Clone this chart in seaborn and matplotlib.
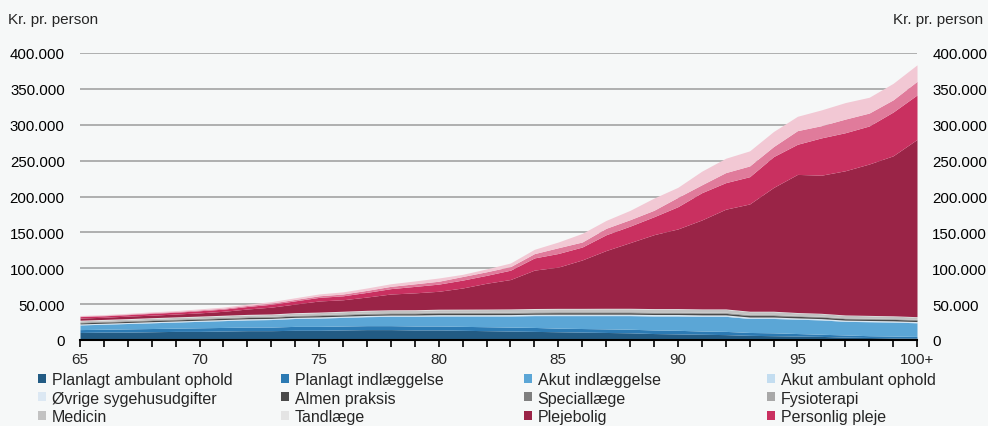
import numpy as np
import pandas as pd
import matplotlib
matplotlib.use("Agg")
import matplotlib.pyplot as plt
import matplotlib.ticker as mticker
import seaborn as sns

# alder 65..100+ (tusind kr. pr. person)
alder = list(range(65, 101))
x_labels = ["65", "70", "75", "80", "85", "90", "95", "100+"]

planlagt_amb = [10.5, 11, 11, 11.5, 12, 12, 12.5, 13, 13, 13.5,
                13.5, 14, 14.5, 14.5, 14, 14, 13.5, 13, 12.5, 12,
                11.5, 11, 10.5, 10, 9, 8.5, 8, 7.5, 6.5, 6,
                5.5, 5, 4, 3.5, 3, 3]
planlagt_indl = [4, 4, 4.5, 4.5, 4.5, 5, 5, 5, 5, 5.5,
                 5.5, 5.5, 5.5, 5.5, 5.5, 5.5, 5.5, 5.5, 5.5, 5.5,
                 5, 5, 5, 5, 5, 5, 4.5, 4.5, 4, 4,
                 3.5, 3, 3, 2.5, 2.5, 2]
akut_indl = [6.5, 7, 7.5, 8, 8.5, 9, 9.5, 10, 10.5, 11,
             11.5, 12, 12.5, 13, 13.5, 14, 14.5, 15, 15.5, 16.5,
             17.5, 18, 18.5, 19, 19.5, 20, 20.5, 21, 19.5, 20,
             20, 20, 19, 19.5, 19.5, 19]
akut_amb = [0.8, 0.8, 0.8, 0.9, 0.9, 0.9, 0.9, 1, 1, 1,
            1, 1, 1, 1.1, 1.1, 1.1, 1.1, 1.1, 1.2, 1.2,
            1.2, 1.2, 1.2, 1.2, 1.2, 1.2, 1.2, 1.2, 1.2, 1.2,
            1.1, 1.1, 1, 1, 1, 1]
oevrige = [0.6] * 10 + [0.7] * 10 + [0.8] * 10 + [0.7] * 6
almen = [1.5, 1.5, 1.5, 1.6, 1.6, 1.6, 1.7, 1.7, 1.7, 1.8,
         1.8, 1.8, 1.9, 1.9, 1.9, 2, 2, 2, 2, 2,
         2.1, 2.1, 2.1, 2.1, 2.1, 2.1, 2.1, 2.1, 2.1, 2.1,
         2.1, 2.1, 2, 2, 2, 2]
special = [0.9] * 10 + [1.0] * 20 + [0.8] * 6
fysio = [0.5] * 10 + [0.6] * 20 + [0.5] * 6
medicin = [1.5, 1.6, 1.7, 1.8, 1.9, 2, 2.1, 2.2, 2.3, 2.5,
           2.6, 2.8, 3, 3.1, 3.2, 3.3, 3.4, 3.5, 3.6, 3.7,
           3.8, 3.8, 3.9, 3.9, 4, 4, 4, 4, 3.8, 3.8,
           3.6, 3.5, 3.4, 3.3, 3.2, 3]
tand = [0.8] * 10 + [0.7] * 10 + [0.6] * 10 + [0.5] * 6
plejebolig = [3, 3, 3.5, 3.5, 4, 4.5, 5.5, 7.5, 9.5, 12,
              15.5, 16, 18.5, 22, 23.5, 25, 29.5, 36, 41, 53.5,
              57.5, 67.5, 80.5, 91.5, 103, 111, 124, 139, 149.5, 172.5,
              192.5, 192.5, 201, 211, 223, 247]
personlig = [2, 2, 2, 2.5, 2.5, 3, 3, 3.5, 4, 4.5,
             5, 5.5, 6.5, 7.5, 9, 10, 11, 11, 13, 17,
             19, 18, 22, 23, 25, 31, 38, 37, 38, 43,
             42, 52, 53, 53, 61, 62]
praktisk = [0.8, 0.8, 0.9, 1, 1, 1.2, 1.3, 1.5, 1.7, 2,
            2.2, 2.5, 2.8, 3.2, 3.6, 4, 5, 5, 5, 6,
            8, 7, 9, 9, 9, 13, 11, 14, 15, 14,
            19, 17, 19, 18, 17, 19]
sygepleje = [0.8, 0.9, 1, 1.1, 1.2, 1.4, 1.6, 1.8, 2, 2.3,
             2.6, 3, 3.3, 3.6, 4, 4.5, 3, 4, 5, 6,
             8, 12, 11, 13, 17, 14, 19, 20, 21, 21,
             20, 22, 23, 22, 23, 23]

navne = ["Planlagt ambulant ophold", "Planlagt indlæggelse", "Akut indlæggelse",
         "Akut ambulant ophold", "Øvrige sygehusudgifter", "Almen praksis",
         "Speciallæge", "Fysioterapi", "Medicin", "Tandlæge", "Plejebolig",
         "Personlig pleje", "Praktisk hjælp", "Hjemmesygepleje"]
farver = ["#225b84", "#2c7ab3", "#5ba6d6", "#c3ddf0", "#dce8f3", "#4a4a4a",
          "#7f7f7f", "#a8a8a8", "#c2c2c2", "#e4e4e4", "#9a2447", "#c93060",
          "#e07b9b", "#f2c8d4"]
serier = [planlagt_amb, planlagt_indl, akut_indl, akut_amb, oevrige, almen,
          special, fysio, medicin, tand, plejebolig, personlig, praktisk, sygepleje]

df = pd.DataFrame({n: np.array(s) * 1000 for n, s in zip(navne, serier)}, index=alder)

bg = "#f6f8f8"
sns.set_theme(style="white")
plt.rcParams["font.family"] = ["Liberation Sans", "DejaVu Sans"]

fig = plt.figure(figsize=(9.88, 4.27), dpi=100, facecolor=bg)
ax = fig.add_axes([80 / 988, 1 - 341 / 427, 837 / 988, 287 / 427])
ax.set_facecolor(bg)

polys = ax.stackplot(df.index, df.T.values, colors=farver, labels=navne, linewidth=0)

ax.set_xlim(65, 100)
ax.set_ylim(0, 400000)
ax.set_axisbelow(True)
ax.yaxis.grid(True, color="#a3a3a3", linewidth=1.2)
ax.xaxis.grid(False)
for s in ["top", "left", "right"]:
    ax.spines[s].set_visible(False)
ax.spines["bottom"].set_color("black")
ax.spines["bottom"].set_linewidth(1.5)

ax.set_yticks(np.arange(0, 400001, 50000))
ax.yaxis.set_major_formatter(mticker.FuncFormatter(lambda v, p: f"{int(v):,}".replace(",", ".")))
ax.tick_params(axis="y", length=0, labelsize=10.8, labelright=True, pad=11, colors="black")

ax.set_xticks(list(range(65, 101, 5)))
ax.set_xticklabels(x_labels)
ax.set_xticks(alder, minor=True)
ax.tick_params(axis="x", which="both", direction="out", length=5, width=1.2,
               color="black", labelsize=11, pad=4, bottom=True)

fig.text(8 / 988, 1 - 20 / 427, "Kr. pr. person", fontsize=11, va="center", ha="left")
fig.text(983 / 988, 1 - 20 / 427, "Kr. pr. person", fontsize=11, va="center", ha="right")

# legend: 4 kolonner, 3 rækker (de sidste to serier er skåret fra i originalen)
handles = polys[:12]
col_x = [38, 281, 524, 767]
for j, cx in enumerate(col_x):
    hs = handles[j::4]
    fig.legend(hs, [h.get_label() for h in hs], loc="upper left",
               bbox_to_anchor=(cx / 988, 1 - 373 / 427), frameon=False,
               fontsize=11.5, handlelength=0.5, handleheight=0.5,
               handletextpad=0.35, labelspacing=0.22, borderpad=0, borderaxespad=0)

fig.savefig("out.png", dpi=100, facecolor=bg)
